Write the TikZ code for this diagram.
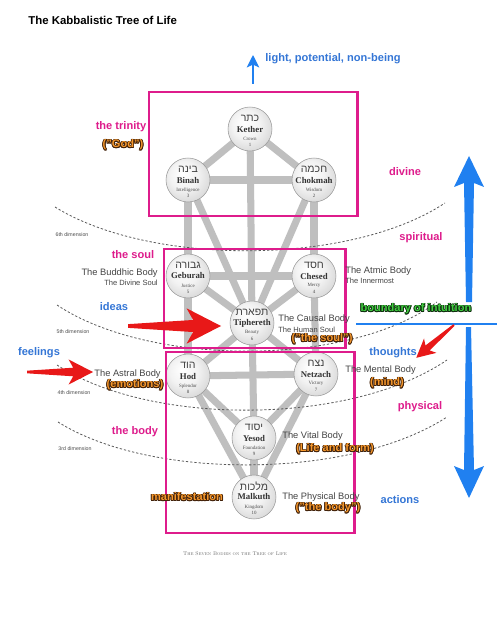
\documentclass[tikz,border=0pt]{standalone}
\usepackage{fontspec}
\setsansfont{Liberation Sans}
\newfontfamily\sephfont{Liberation Serif}
\newfontfamily\hebfont[Script=Hebrew]{Liberation Sans}
\TeXXeTstate=1
\usetikzlibrary{arrows.meta,backgrounds}

\definecolor{treepink}{RGB}{222,28,140}
\definecolor{skyblue}{RGB}{32,128,240}
\definecolor{labelblue}{RGB}{52,118,214}
\definecolor{arrowred}{RGB}{232,24,24}
\definecolor{fillorange}{RGB}{246,152,44}
\definecolor{outlinebrown}{RGB}{66,34,10}
\definecolor{fillgreen}{RGB}{64,204,64}
\definecolor{outlinegreen}{RGB}{16,48,16}
\definecolor{bodygray}{RGB}{68,68,68}

\pgfdeclareradialshading{sephshade}{\pgfpoint{-7bp}{8bp}}{%
  color(0bp)=(white); color(16bp)=(white!95!black); color(34bp)=(white!82!black);
  color(46bp)=(white!66!black); color(50bp)=(white!58!black)}

\tikzset{
  sephball/.style={circle, minimum size=0.88cm, inner sep=0pt, draw=gray!80, line width=0.3pt, shading=sephshade},
  treepath/.style={line width=4pt, gray!50},
  pinkbox/.style={draw=treepink, line width=1.7pt},
  dimline/.style={gray!70!black, line width=0.45pt, dash pattern=on 1.3pt off 1.1pt},
  boldtxt/.style={font=\sffamily\bfseries\fontsize{6.3}{7}\selectfont, inner sep=0pt},
  pinktxt/.style={boldtxt, text=treepink},
  bluetxt/.style={boldtxt, text=labelblue},
  bodytxt/.style={font=\sffamily\fontsize{5.3}{6}\selectfont, text=bodygray, inner sep=0pt},
  soultxt/.style={font=\sffamily\fontsize{4.3}{5}\selectfont, text=bodygray, inner sep=0pt},
  dimtxt/.style={font=\sffamily\fontsize{3}{3.5}\selectfont, text=gray!60!black, inner sep=0pt},
  hebtxt/.style={font={\hebfont\fontsize{6}{7}\selectfont}, text=black!75, inner sep=0pt},
  nametxt/.style={font={\sephfont\bfseries\fontsize{5}{6}\selectfont}, text=black!80, inner sep=0pt},
  tinytxt/.style={font={\sephfont\fontsize{2.8}{3}\selectfont}, text=black!70, inner sep=0pt},
  captxt/.style={font=\fontsize{3}{4}\selectfont, text=gray!80!black, inner sep=0pt},
  redarrow/.pic={\fill[arrowred] (0,-2) -- (70,-6.5) -- (63,-19) -- (100,0) -- (63,19) -- (70,6.5) -- (0,2) -- cycle;}
}

% one sephira: name, position, hebrew, title, meaning, number
\newcommand{\sephira}[6]{%
  \node[sephball] (#1) at (#2) {};
  \node[hebtxt] (#1-heb) at ([yshift=6pt]#1.center) {\beginR #3\endR};
  \node[nametxt] (#1-name) at (#1.center) {#4};
  \node[tinytxt] (#1-mean) at ([yshift=-5.6pt]#1.center) {#5};
  \node[tinytxt] (#1-num) at ([yshift=-9pt]#1.center) {#6};
}

% outlined bold label: name, position, fill, outline, text
\newcommand{\glowlabel}[5]{%
  \foreach \ang in {0,30,...,330}
    \node[boldtxt, text=#4, shift={(\ang:0.45pt)}] at (#2) {#5};
  \node[boldtxt, text=#3] (#1) at (#2) {#5};
}

\begin{document}
\begin{tikzpicture}[x=0.02cm, y=-0.02cm]
  \useasboundingbox (0,0) rectangle (500,621);

  % the ten sephiroth
  \sephira{kether}{250,129}{כתר}{Kether}{Crown}{1}
  \sephira{chokmah}{314,180}{חכמה}{Chokmah}{Wisdom}{2}
  \sephira{binah}{188,180}{בינה}{Binah}{Intelligence}{3}
  \sephira{chesed}{314,276}{חסד}{Chesed}{Mercy}{4}
  \sephira{geburah}{188,276}{גבורה}{Geburah}{Justice}{5}
  \sephira{tiphereth}{252,323}{תפארת}{Tiphereth}{Beauty}{6}
  \sephira{netzach}{316,374}{נצח}{Netzach}{Victory}{7}
  \sephira{hod}{188,376}{הוד}{Hod}{Splendor}{8}
  \sephira{yesod}{254,438}{יסוד}{Yesod}{Foundation}{9}
  \sephira{malkuth}{254,497}{מלכות}{Malkuth}{Kingdom}{10}

  \begin{scope}[on background layer]
    \fill[white] (0,0) rectangle (500,621);
    % the 22 paths
    \foreach \a/\b in {kether/binah, kether/chokmah, kether/tiphereth, binah/chokmah,
        binah/geburah, binah/tiphereth, chokmah/chesed, chokmah/tiphereth,
        geburah/chesed, geburah/tiphereth, chesed/tiphereth, geburah/hod,
        chesed/netzach, tiphereth/hod, tiphereth/netzach, tiphereth/yesod,
        hod/netzach, hod/yesod, netzach/yesod, hod/malkuth, netzach/malkuth, yesod/malkuth}
      \draw[treepath] (\a.center) -- (\b.center);
    % dimension lines
    \draw[dimline] (55,207) .. controls (150,266) and (350,266) .. (445,203);
    \draw[dimline] (57,305) .. controls (150,367) and (350,367) .. (437,302);
    \draw[dimline] (57,365) .. controls (150,426) and (350,426) .. (447,360);
    \draw[dimline] (58,422) .. controls (150,480) and (350,480) .. (447,417);
  \end{scope}

  % groups
  \draw[pinkbox] (149,92) rectangle (357,216);
  \draw[pinkbox] (164,249) rectangle (345,348);
  \draw[pinkbox] (166,352) rectangle (354,533);

  % blue arrows
  \coordinate (lightfoot) at (253,84);
  \coordinate (lighttip) at (253,55);
  \draw[skyblue, line width=1.7pt, -{Stealth[length=7pt,width=7pt,inset=1.5pt]}] (lightfoot) -- (lighttip);
  \fill[skyblue] (469,156) -- (484,187) -- (474,183) -- (472,302) -- (466,302) -- (464,183) -- (454,187) -- cycle;
  \fill[skyblue] (466,327) -- (471,327) -- (474,470) -- (484,466) -- (469,498) -- (454,466) -- (464,470) -- cycle;
  \draw[skyblue, line width=1.7pt] (356,324) -- (497,324);

  % red arrows
  \pic[scale=0.93] at (128,326) {redarrow};
  \pic[scale=0.66] at (27,372) {redarrow};
  \pic[scale=0.5, rotate=221] at (454,325) {redarrow};

  % labels
  \node[boldtxt, font=\sffamily\bfseries\fontsize{6.5}{7}\selectfont, anchor=west] (title) at (28,20) {The Kabbalistic Tree of Life};
  \node[bluetxt, anchor=west] (light) at (265,59) {light, potential, non-being};
  \node[pinktxt] (trinity) at (121,127) {the trinity};
  \glowlabel{god}{123,145}{fillorange}{outlinebrown}{("God")}
  \node[pinktxt] (divine) at (405,172) {divine};
  \node[pinktxt] (spiritual) at (421,238) {spiritual};
  \node[pinktxt] (soul) at (133,255) {the soul};
  \node[bodytxt, anchor=east] (buddhic) at (158,273) {The Buddhic Body};
  \node[soultxt, anchor=east] (divinesoul) at (158,283) {The Divine Soul};
  \node[bluetxt] (ideas) at (114,307) {ideas};
  \node[bodytxt, anchor=west] (atmic) at (345,271) {The Atmic Body};
  \node[soultxt, anchor=west] (innermost) at (345,281) {The Innermost};
  \node[bodytxt, anchor=west] (causal) at (278,319) {The Causal Body};
  \node[soultxt, anchor=west] (humansoul) at (278,330) {The Human Soul};
  \glowlabel{thesoul}{322,339}{fillorange}{outlinebrown}{("the soul")}
  \glowlabel{intuition}{416,309}{fillgreen}{outlinegreen}{boundary of intuition}
  \node[bluetxt] (feelings) at (39,353) {feelings};
  \node[bodytxt, anchor=east] (astral) at (161,374) {The Astral Body};
  \glowlabel{emotions}{135,385}{fillorange}{outlinebrown}{(emotions)}
  \node[bluetxt] (thoughts) at (393,353) {thoughts};
  \node[bodytxt, anchor=west] (mental) at (345,370) {The Mental Body};
  \glowlabel{mind}{387,383}{fillorange}{outlinebrown}{(mind)}
  \node[pinktxt] (physical) at (420,407) {physical};
  \node[pinktxt] (thebody) at (135,432) {the body};
  \node[bodytxt, anchor=west] (vital) at (282,436) {The Vital Body};
  \glowlabel{lifeform}{335,449}{fillorange}{outlinebrown}{(Life and form)}
  \glowlabel{manifest}{187,497}{fillorange}{outlinebrown}{manifestation}
  \node[bodytxt, anchor=west] (physbody) at (282,497) {The Physical Body};
  \glowlabel{bodyquote}{328,508}{fillorange}{outlinebrown}{("the body")}
  \node[bluetxt] (actions) at (400,500) {actions};
  \node[dimtxt] (dim6) at (72,235) {6th dimension};
  \node[dimtxt] (dim5) at (73,332) {5th dimension};
  \node[dimtxt] (dim4) at (74,393) {4th dimension};
  \node[dimtxt] (dim3) at (75,449) {3rd dimension};
  \node[captxt] (caption) at (235,554) {\textsc{The Seven Bodies on the Tree of Life}};
\end{tikzpicture}
\end{document}
